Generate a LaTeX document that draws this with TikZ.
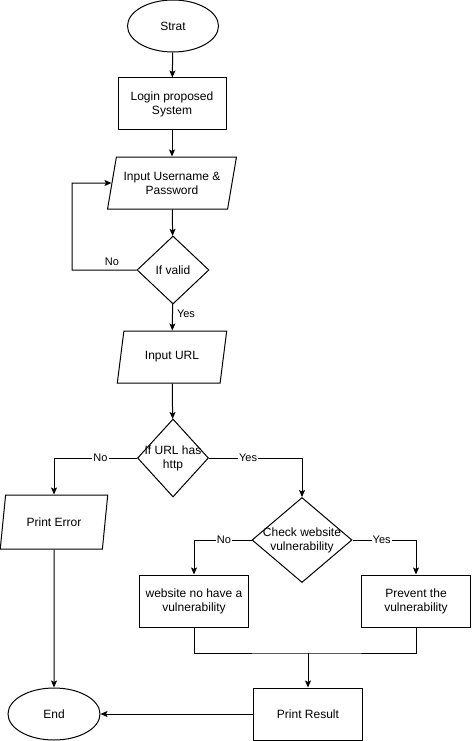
\documentclass[tikz,border=0pt]{standalone}
\usepackage{fontspec}
\setmainfont{Liberation Sans}
\usetikzlibrary{arrows.meta,shapes.geometric,calc}

\begin{document}
\begin{tikzpicture}[x=1pt,y=-1pt,
  font=\fontsize{12}{14}\selectfont,
  line width=1pt,
  terminal/.style={draw,ellipse,inner sep=0pt,minimum width=92pt,minimum height=52pt},
  process/.style={draw,rectangle,align=center,inner sep=0pt,minimum width=109pt,minimum height=52pt},
  io/.style={draw,trapezium,trapezium left angle=71,trapezium right angle=109,
    trapezium stretches=true,align=center,inner sep=0pt,minimum height=52pt},
  decision/.style={draw,diamond,inner sep=0pt},
  arr/.style={-{Stealth[length=7pt,width=6pt,inset=1.5pt]}},
  lbl/.style={font=\fontsize{11}{13}\selectfont,fill=white,inner sep=1pt}]
\useasboundingbox (0,0) rectangle (471,741);

% main column
\node[terminal,minimum width=91pt] (start) at (173,26) {Strat};
\node[process,minimum width=108pt] (login) at (172,104) {Login proposed\\System};
\node[io,minimum width=129pt] (user) at (172,183) {Input Username \&\\Password};
\node[decision,minimum width=72pt,minimum height=68pt] (valid) at (173,270) {};
\node (validtxt) at (valid) {If valid};
\node[io,minimum width=110pt] (url) at (172,357) {Input URL};
\node[decision,minimum width=71pt,minimum height=78pt] (http) at (173,458) {};
\node[align=center] (httptxt) at (http) {If URL has\\http};

% branches
\node[io,minimum width=108pt,minimum height=54pt] (err) at (54,522) {Print Error};
\node[decision,minimum width=100pt,minimum height=85pt] (check) at (302,540) {};
\node[align=center] (checktxt) at (check) {Check website\\vulnerability};
\node[process] (safe) at (194,601) {website no have a\\vulnerability};
\node[process] (prevent) at (416,601) {Prevent the\\vulnerability};
\node[process] (result) at (308,714) {Print Result};
\node[terminal] (stop) at (54,714) {End};

\coordinate (back) at (72,183);
\coordinate (join) at (308,653);

\draw[arr] (start) -- (login);
\draw[arr] (login) -- (user);
\draw[arr] (user) -- (valid);
\draw[arr] (valid.west) -| node[lbl,fill=none,pos=0.19,above=3pt] {No} (back) -- (user.west);
\draw[arr] (valid) -- node[lbl,fill=none,pos=0.35,right=3pt] {Yes} (url);
\draw[arr] (url) -- (http);
\draw[arr] (http.west) -| node[lbl,pos=0.22] {No} (err.north);
\draw[arr] (http.east) -| node[lbl,pos=0.21] {Yes} (check.north);
\draw[arr] (check.west) -| node[lbl,pos=0.24] {No} (safe.north);
\draw[arr] (check.east) -| node[lbl,pos=0.23] {Yes} (prevent.north);
\draw (safe.south) |- (join) -| (prevent.south);
\draw[arr] (join) -- (result);
\draw[arr] (err) -- (stop);
\draw[arr] (result) -- (stop);
\end{tikzpicture}
\end{document}
